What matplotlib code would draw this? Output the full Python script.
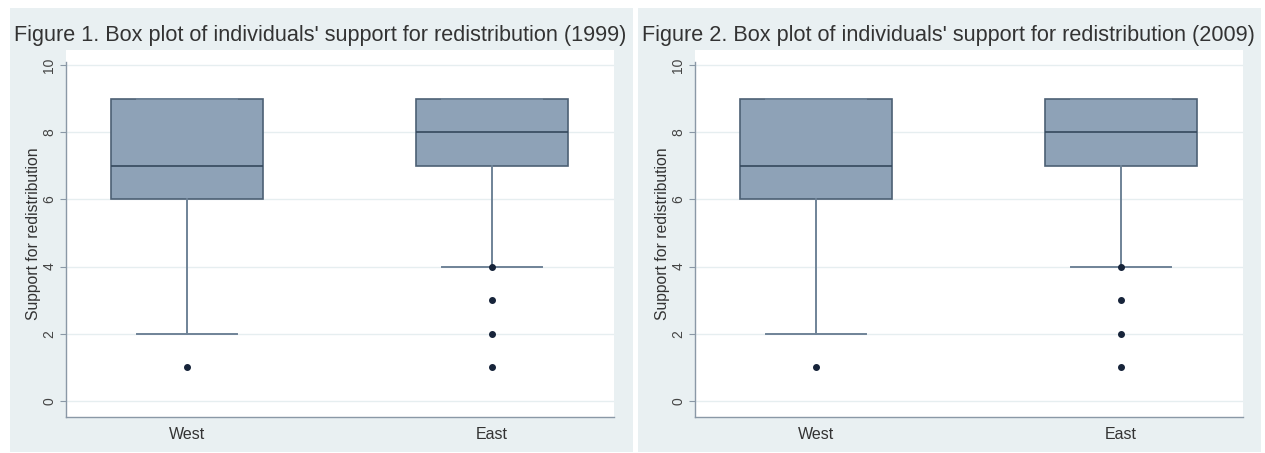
import matplotlib
matplotlib.use("Agg")
import matplotlib.pyplot as plt
from matplotlib.patches import Rectangle

plt.rcParams['font.family'] = ['Liberation Sans', 'DejaVu Sans']

# data (same in both years)
groups = ['West', 'East']
q1 = [6, 7]
med = [7, 8]
q3 = [9, 9]
wlo = [2, 4]
whi = [9, 9]
fliers = [[1], [4, 3, 2, 1]]

titles = ["Figure 1. Box plot of individuals' support for redistribution (1999)",
          "Figure 2. Box plot of individuals' support for redistribution (2009)"]
yticks = [0, 2, 4, 6, 8, 10]

W, H = 1265, 453
fig = plt.figure(figsize=(W / 100, H / 100), dpi=100)
fig.patch.set_facecolor('white')

bg = '#e9f0f2'
box_face = '#8ea2b7'
box_edge = '#4d6074'
whisk = '#6f8397'

panels = [(10, 66), (638, 695)]  # (background left px, axes left px)

for i, (bgx, axx) in enumerate(panels):
    fig.patches.append(Rectangle((bgx / W, 1 - 452 / H), 623 / W, 444 / H,
                                 transform=fig.transFigure, facecolor=bg,
                                 edgecolor='none', zorder=-10))
    fig.text((bgx + 310) / W, 1 - 35 / H, titles[i], ha='center', va='center',
             fontsize=15.6, color='#333333')

    ax = fig.add_axes([axx / W, 1 - 417 / H, 548 / W, 367 / H])
    ax.set_facecolor('white')

    stats = []
    for j, g in enumerate(groups):
        stats.append(dict(label=g, q1=q1[j], med=med[j], q3=q3[j],
                          whislo=wlo[j], whishi=whi[j], fliers=fliers[j]))
    ax.bxp(stats, positions=[0, 1], widths=0.5, patch_artist=True,
           showfliers=True,
           boxprops=dict(facecolor=box_face, edgecolor=box_edge, linewidth=1.2),
           medianprops=dict(color='#34485c', linewidth=1.2),
           whiskerprops=dict(color=whisk, linewidth=1.4),
           capprops=dict(color=whisk, linewidth=1.4),
           capwidths=0.33,
           flierprops=dict(marker='o', markersize=4, markerfacecolor='#17243a',
                           markeredgecolor='#17243a'))

    ax.set_xlim(-0.397, 1.40)
    ax.set_ylim(-0.48, 10.45)
    ax.set_yticks(yticks)
    ax.set_yticklabels([str(t) for t in yticks], rotation=90, va='center')
    ax.tick_params(axis='y', length=4, color='#8a98a6', labelsize=10,
                   labelcolor='#444444', pad=3)
    ax.tick_params(axis='x', length=0, labelsize=11.5, labelcolor='#333333', pad=7)
    ax.set_xticks([0, 1])
    ax.set_xticklabels(groups)
    ax.yaxis.grid(True, color='#e6eef0', linewidth=1.0)
    ax.set_axisbelow(True)
    for s in ['top', 'right']:
        ax.spines[s].set_visible(False)
    for s in ['left', 'bottom']:
        ax.spines[s].set_color('#8a98a6')
        ax.spines[s].set_linewidth(1.0)
    ax.spines['left'].set_bounds(-0.48, 10.1)
    ax.set_ylabel('Support for redistribution', fontsize=11.3, color='#333333',
                  labelpad=1)

fig.savefig('out.png', dpi=100)
